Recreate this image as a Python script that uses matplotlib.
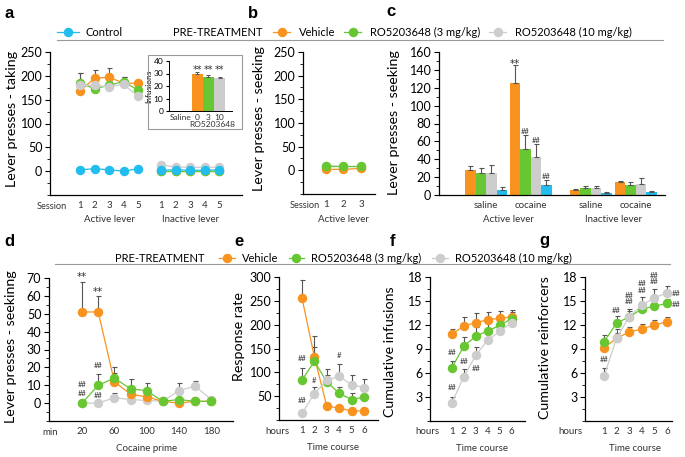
import numpy as np
import matplotlib
matplotlib.use('Agg')
import matplotlib.pyplot as plt
from matplotlib.ticker import AutoMinorLocator
from matplotlib.lines import Line2D
from matplotlib.patches import Rectangle

plt.rcParams['font.family'] = ['Lato', 'DejaVu Sans']

# ------------------------- data -------------------------
legend_labels = ['Vehicle', 'RO5203648 (3 mg/kg)', 'RO5203648 (10 mg/kg)']
control_label = 'Control'

# panel a : taking sessions
a_sessions = [1, 2, 3, 4, 5]
a_act_vehicle = [168, 195, 197, 185, 184]
a_act_vehicle_err = [8, 18, 19, 8, 8]
a_act_ro3 = [185, 173, 180, 188, 170]
a_act_ro3_err = [20, 8, 8, 10, 8]
a_act_ro10 = [180, 180, 177, 182, 157]
a_act_ro10_err = [25, 12, 12, 16, 8]
a_act_control = [3, 5, 3, 0, 5]
a_inact_vehicle = [0, 0, 0, 0, 0]
a_inact_ro3 = [1, 1, 1, 1, 1]
a_inact_ro10 = [13, 9, 8, 8, 8]
a_inact_control = [2, 3, 2, 2, 3]

# panel a inset : infusions
inset_labels = ['Saline', '0', '3', '10']
inset_values = [0, 29.5, 27, 26.5]
inset_err = [0, 2, 2, 1]
inset_marks = ['', '**', '**', '**']

# panel b : seeking sessions
b_sessions = [1, 2, 3]
b_vehicle = [2, 2, 4]
b_ro3 = [10, 10, 10]
b_ro10 = [10, 8, 8]

# panel c : seeking test
c_groups = ['saline', 'cocaine', 'saline', 'cocaine']
c_vehicle = [28, 125, 6, 14]
c_vehicle_err = [4, 20, 1, 2]
c_ro3 = [25, 52, 7.5, 11]
c_ro3_err = [5, 15, 2.5, 3.5]
c_ro10 = [25, 43, 7.5, 12]
c_ro10_err = [9, 14, 2.5, 6.5]
c_control = [6, 11, 2, 3.5]
c_control_err = [2.5, 6, 1, 0.8]
c_marks = [(1, 0, 150, '**'), (1, 1, 71, '##'), (1, 2, 61, '##'), (1, 3, 21, '##')]

# panel d : cocaine prime time course
d_minutes = [20, 40, 60, 80, 100, 120, 140, 160, 180]
d_tick_minutes = [20, 60, 100, 140, 180]
d_vehicle = [51, 51, 12, 5, 3.5, 1, 0, 1, 1]
d_vehicle_err = [17, 9, 5, 3, 3, 1, 1, 1, 1]
d_ro3 = [0, 10, 14, 8, 7, 1, 2, 1, 1]
d_ro3_err = [0, 6.5, 6, 5.5, 4, 1, 1, 1, 1]
d_ro10 = [0, 0, 3, 2, 1.5, 1, 7, 9.5, 2]
d_ro10_err = [0, 0, 2.5, 0, 1, 1, 4, 3, 1]
d_marks = [(20, 72.5, '**'), (40, 64, '**'), (40, 21.3, '##'), (40, 4.1, '##'),
           (20, 10.6, '##'), (20, 5.6, '##')]

# panels e, f, g : hourly time course
hours = [1, 2, 3, 4, 5, 6]
e_vehicle = [256, 132, 29, 25, 19, 19]
e_vehicle_err = [37, 45, 3, 3, 2, 2]
e_ro3 = [84, 123, 80, 56, 43, 48]
e_ro3_err = [25, 30, 15, 13, 13, 12]
e_ro10 = [14, 55, 83, 92, 74, 68]
e_ro10_err = [3, 14, 23, 25, 21, 18]
e_marks = [(1, 128, '##'), (1, 41, '##'), (2, 83, '#'), (4, 135, '#')]

f_vehicle = [10.85, 11.85, 12.3, 12.65, 12.85, 13.0]
f_vehicle_err = [0.7, 1.1, 1.2, 0.95, 0.9, 0.9]
f_ro3 = [6.6, 9.35, 10.6, 11.25, 11.95, 12.8]
f_ro3_err = [0.9, 1.2, 1.15, 1.15, 1.05, 0.8]
f_ro10 = [2.25, 5.5, 8.2, 10.1, 11.2, 12.3]
f_ro10_err = [0.75, 0.95, 1.05, 0.8, 0.8, 0.7]
f_marks = [(1, 8.6, '##'), (2, 7.4, '##'), (3, 6.6, '##'), (1, 4.25, '##')]

g_vehicle = [9.15, 10.35, 11.1, 11.5, 12.0, 12.4]
g_vehicle_err = [0.5, 0.6, 0.6, 0.6, 0.65, 0.6]
g_ro3 = [9.9, 12.25, 13.0, 14.0, 14.35, 14.7]
g_ro3_err = [0.8, 0.9, 0.8, 0.6, 0.7, 0.5]
g_ro10 = [5.6, 10.35, 13.05, 14.45, 15.4, 16.0]
g_ro10_err = [1.0, 1.1, 0.9, 1.0, 1.1, 0.9]
g_marks = [(1, 7.7, '##'), (2, 13.8, '##'), (3, 15.35, '##\n##'),
           (4, 16.75, '##\n##'), (5, 17.8, '##\n##'),
           (6.75, 16.0, '##'), (6.75, 14.6, '##')]

# ------------------------- style -------------------------
ORANGE = '#F7931E'
GREEN = '#66C732'
GRAY = '#CDCDCD'
CYAN = '#22BDEF'
ERR = '#555555'
TXT = '#333333'
YLAB = 10.3
LEGFS = 8

W, H = 685, 457
fig = plt.figure(figsize=(W / 100, H / 100), dpi=100)


def add_ax(l, r, t, b):
    return fig.add_axes([l / W, 1 - b / H, (r - l) / W, (b - t) / H])


def ftext(xp, yp, s, size=7, **kw):
    return fig.text(xp / W, 1 - yp / H, s, ha='center', va='center', fontsize=size,
                    color=kw.pop('color', TXT), **kw)


def style(ax, ysize=9):
    for s in ['top', 'right']:
        ax.spines[s].set_visible(False)
    for s in ['left', 'bottom']:
        ax.spines[s].set_linewidth(0.9)
    ax.tick_params(axis='y', which='major', length=3.5, width=0.8, labelsize=ysize, pad=2)
    ax.tick_params(axis='y', which='minor', length=2, width=0.6)
    ax.tick_params(axis='x', which='both', length=0, labelsize=7, pad=4, labelcolor=TXT)
    ax.yaxis.set_minor_locator(AutoMinorLocator(2))
    ax.set_facecolor('none')


def ylab(ax, s, xc, yc):
    ax.set_ylabel(s, fontsize=YLAB)
    ax.yaxis.set_label_coords(xc, yc)


def series(ax, x, y, err, color, z):
    x = np.asarray(x, float)
    y = np.asarray(y, float)
    if err is not None:
        ax.errorbar(x, y, yerr=[np.zeros(len(err)), err], fmt='none', ecolor=ERR,
                    elinewidth=0.8, capsize=1.8, capthick=0.8, zorder=1, clip_on=False)
    ln, = ax.plot(x, y, '-o', color=color, lw=0.9, ms=5.8, mec=color, zorder=z, clip_on=False)
    return ln


def row2(ax, s, xdata, ypt=-18, size=7):
    ax.annotate(s, xy=(xdata, 0), xycoords=('data', 'axes fraction'), xytext=(0, ypt),
                textcoords='offset points', ha='center', va='center', fontsize=size, color=TXT)


def star(ax, x, y, s, size=7.5):
    if s == '**':
        ax.annotate(s, xy=(x, y), xycoords='data', xytext=(0, -2.2), textcoords='offset points',
                    ha='center', va='center', fontsize=size, color=TXT,
                    family=['DejaVu Sans'], annotation_clip=False)
    else:
        ax.annotate(s, xy=(x, y), xycoords='data', xytext=(0, 0), textcoords='offset points',
                    ha='center', va='center', fontsize=5.5, color=TXT, linespacing=0.85,
                    annotation_clip=False)


def marks(ax, items):
    for x, y, s in items:
        star(ax, x, y, s)


# ------------------------- panel a -------------------------
ax = add_ax(50, 242, 52, 195)
style(ax)
xa = np.array(a_sessions, float)
xi = xa + 5.6
series(ax, xa, a_act_vehicle, a_act_vehicle_err, ORANGE, 3)
series(ax, xa, a_act_ro3, a_act_ro3_err, GREEN, 4)
series(ax, xa, a_act_ro10, a_act_ro10_err, GRAY, 5)
series(ax, xa, a_act_control, None, CYAN, 6)
series(ax, xi, a_inact_vehicle, None, ORANGE, 3)
series(ax, xi, a_inact_ro3, None, GREEN, 4)
series(ax, xi, a_inact_ro10, None, GRAY, 5)
series(ax, xi, a_inact_control, None, CYAN, 6)
ax.set_ylim(-50, 250)
ax.set_yticks([0, 50, 100, 150, 200, 250])
ax.set_xlim(-1.07, 12.17)
ax.set_xticks(list(xa) + list(xi))
ax.set_xticklabels([str(s) for s in a_sessions] * 2)
ftext(52, 206.5, 'Session', size=6.7)
row2(ax, 'Active lever', xa.mean())
row2(ax, 'Inactive lever', xi.mean())
ylab(ax, 'Lever presses - taking', -0.167, 0.53)

# inset
fig.add_artist(Rectangle((148 / W, 1 - 129 / H), 94 / W, 74 / H, transform=fig.transFigure,
                         fill=False, ec='#9a9a9a', lw=0.8))
axi = add_ax(169, 232, 61, 111)
style(axi, ysize=6)
axi.tick_params(axis='y', which='major', length=2.5, pad=1.5)
axi.tick_params(axis='y', which='minor', length=0)
axi.tick_params(axis='x', labelsize=6, pad=2)
ipos = np.array([-1.5, 0, 1, 2])
axi.bar(ipos, inset_values, width=1.0, color=['white', ORANGE, GREEN, GRAY],
        yerr=[np.zeros(4), inset_err], error_kw=dict(ecolor=ERR, elinewidth=0.7, capsize=1.5, capthick=0.7))
for p, m in zip(ipos, inset_marks):
    if m:
        star(axi, p, 35.5, m, size=7)
axi.set_ylim(0, 40)
axi.set_yticks([0, 10, 20, 30, 40])
axi.set_xlim(-2.5, 3.1)
axi.set_xticks(ipos)
axi.set_xticklabels(inset_labels)
axi.spines['left'].set_linewidth(0.7)
axi.spines['bottom'].set_linewidth(0.7)
ftext(212, 124.5, 'RO5203648', size=6)
axi.set_ylabel('Infusions', fontsize=6, labelpad=1)

# ------------------------- panel b -------------------------
ax = add_ax(303, 375, 52, 194)
style(ax)
series(ax, b_sessions, b_vehicle, None, ORANGE, 3)
series(ax, b_sessions, b_ro3, None, GREEN, 4)
series(ax, b_sessions, b_ro10, None, GRAY, 2)
ax.set_ylim(-50, 250)
ax.set_yticks([0, 50, 100, 150, 200, 250])
ax.set_xlim(-0.31, 3.8)
ax.set_xticks(b_sessions)
ftext(305, 205.5, 'Session', size=6.7)
row2(ax, 'Active lever', 2)
ylab(ax, 'Lever presses - seeking', -0.53, 0.53)

# ------------------------- panel c -------------------------
ax = add_ax(439, 665, 52, 195)
style(ax)
gpos = np.array([0, 1, 2.35, 3.36])
bw = 0.236
cdata = [(c_vehicle, c_vehicle_err, ORANGE), (c_ro3, c_ro3_err, GREEN),
         (c_ro10, c_ro10_err, GRAY), (c_control, c_control_err, CYAN)]
for k, (vals, errs, col) in enumerate(cdata):
    ax.bar(gpos + (k - 1.5) * bw, vals, width=bw, color=col,
           yerr=[np.zeros(len(errs)), errs],
           error_kw=dict(ecolor=ERR, elinewidth=0.8, capsize=1.8, capthick=0.8))
for g, k, y, s in c_marks:
    star(ax, gpos[g] + (k - 1.5) * bw, y, s)
ax.set_ylim(0, 160)
ax.set_yticks(range(0, 161, 20))
ax.set_xlim(-1.056, 4.02)
ax.set_xticks(gpos)
ax.set_xticklabels(c_groups)
row2(ax, 'Active lever', gpos[:2].mean(), ypt=-17.5)
row2(ax, 'Inactive lever', gpos[2:].mean(), ypt=-17.5)
ylab(ax, 'Lever presses - seeking', -0.173, 0.51)

# ------------------------- panel d -------------------------
ax = add_ax(49, 233, 278, 421)
style(ax)
series(ax, d_minutes, d_vehicle, d_vehicle_err, ORANGE, 3)
series(ax, d_minutes, d_ro3, d_ro3_err, GREEN, 4)
series(ax, d_minutes, d_ro10, d_ro10_err, GRAY, 2)
marks(ax, d_marks)
ax.set_ylim(-10, 70)
ax.set_yticks(range(0, 71, 10))
ax.set_xlim(-21, 207)
ax.set_xticks(d_tick_minutes)
ftext(50, 432.5, 'min')
row2(ax, 'Cocaine prime', 100, ypt=-20)
ylab(ax, 'Lever presses - seekinng', -0.174, 0.52)

# ------------------------- panel e -------------------------
ax = add_ax(279, 378, 277, 420)
style(ax)
series(ax, hours, e_vehicle, e_vehicle_err, ORANGE, 3)
series(ax, hours, e_ro3, e_ro3_err, GREEN, 4)
series(ax, hours, e_ro10, e_ro10_err, GRAY, 5)
marks(ax, e_marks)
ax.set_ylim(0, 300)
ax.set_yticks(range(50, 301, 50))
ax.set_xlim(-0.855, 7.13)
ax.set_xticks(hours)
ftext(277, 432, 'hours')
row2(ax, 'Time course', 3.5, ypt=-20)
ylab(ax, 'Response rate', -0.343, 0.58)

# ------------------------- panel f -------------------------
ax = add_ax(430, 525, 277, 421)
style(ax)
series(ax, hours, f_vehicle, f_vehicle_err, ORANGE, 3)
series(ax, hours, f_ro3, f_ro3_err, GREEN, 4)
series(ax, hours, f_ro10, f_ro10_err, GRAY, 5)
marks(ax, f_marks)
ax.set_ylim(0, 18)
ax.set_yticks(range(3, 19, 3))
ax.set_xlim(-0.81, 7.11)
ax.set_xticks(hours)
ftext(427, 432, 'hours')
row2(ax, 'Time course', 3.5, ypt=-20)
ylab(ax, 'Cumulative infusions', -0.358, 0.48)

# ------------------------- panel g -------------------------
ax = add_ax(585, 672, 277, 421)
style(ax)
series(ax, hours, g_vehicle, g_vehicle_err, ORANGE, 3)
series(ax, hours, g_ro3, g_ro3_err, GREEN, 4)
series(ax, hours, g_ro10, g_ro10_err, GRAY, 5)
marks(ax, g_marks)
ax.set_ylim(0, 18)
ax.set_yticks(range(3, 19, 3))
ax.set_xlim(-0.51, 6.4)
ax.set_xticks(hours)
ftext(570, 432, 'hours')
row2(ax, 'Time course', 3.5, ypt=-20)
ylab(ax, 'Cumulative reinforcers', -0.39, 0.51)

# ------------------------- legends -------------------------
h_veh = Line2D([], [], color=ORANGE, marker='o', lw=0.9, ms=5.8)
h_r3 = Line2D([], [], color=GREEN, marker='o', lw=0.9, ms=5.8)
h_r10 = Line2D([], [], color=GRAY, marker='o', lw=0.9, ms=5.8)
h_c = Line2D([], [], color=CYAN, marker='o', lw=0.9, ms=5.8)
leg_kw = dict(frameon=False, fontsize=LEGFS, borderpad=0, borderaxespad=0, loc='center left')
fig.legend([h_c], [control_label], bbox_to_anchor=(57 / W, 1 - 32 / H),
           handlelength=1.98, handletextpad=0.54, **leg_kw)
fig.legend([h_veh, h_r3, h_r10], legend_labels, bbox_to_anchor=(273 / W, 1 - 32 / H), ncol=3,
           handlelength=1.53, handletextpad=0.8, columnspacing=0.8, **leg_kw)
ftext(218, 32, 'PRE-TREATMENT', size=LEGFS, color='black')
fig.add_artist(Line2D([57 / W, 663 / W], [1 - 40 / H] * 2, color='#9a9a9a', lw=0.8))

fig.legend([h_veh, h_r3, h_r10], legend_labels, bbox_to_anchor=(219 / W, 1 - 258 / H), ncol=3,
           handlelength=1.4, handletextpad=0.65, columnspacing=0.95, **leg_kw)
ftext(160, 258, 'PRE-TREATMENT', size=LEGFS, color='black')
fig.add_artist(Line2D([55 / W, 670 / W], [1 - 264 / H] * 2, color='#9a9a9a', lw=0.8))

# panel letters
for lab, x, y in [('a', 9, 13), ('b', 253, 13), ('c', 391, 12), ('d', 9, 242),
                  ('e', 239, 241), ('f', 393, 241), ('g', 544, 241)]:
    fig.text(x / W, 1 - y / H, lab, ha='center', va='center', fontsize=12,
             fontweight='bold', family=['Liberation Sans', 'DejaVu Sans'])

fig.savefig('out.png', dpi=100)
